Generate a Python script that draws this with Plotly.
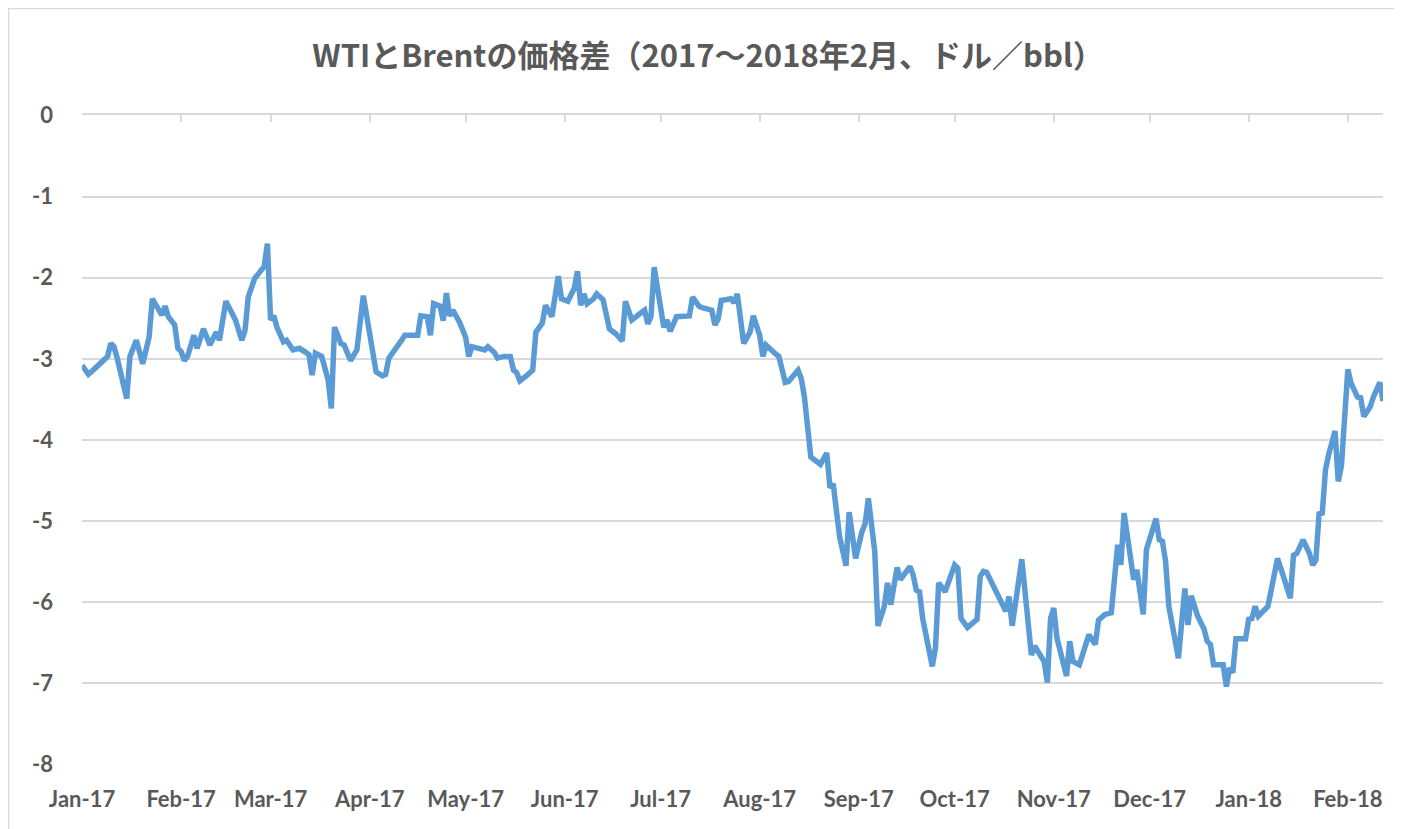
import plotly.graph_objects as go

dates = [
    "2017-01-03","2017-01-05","2017-01-07","2017-01-09","2017-01-11","2017-01-12","2017-01-13","2017-01-14","2017-01-15","2017-01-17","2017-01-18","2017-01-20","2017-01-22","2017-01-24","2017-01-25","2017-01-28","2017-01-29","2017-01-30",
    "2017-02-01","2017-02-02","2017-02-03","2017-02-04","2017-02-05","2017-02-07","2017-02-08","2017-02-10","2017-02-12","2017-02-14","2017-02-15","2017-02-17","2017-02-20","2017-02-22","2017-02-23","2017-02-24","2017-02-26","2017-02-28",
    "2017-03-01","2017-03-02","2017-03-03","2017-03-04","2017-03-05","2017-03-07","2017-03-08","2017-03-10","2017-03-12","2017-03-14","2017-03-15","2017-03-16","2017-03-17","2017-03-19","2017-03-21","2017-03-22","2017-03-23","2017-03-25","2017-03-26","2017-03-28","2017-03-30",
    "2017-04-01","2017-04-03","2017-04-05","2017-04-07","2017-04-08","2017-04-09","2017-04-11","2017-04-13","2017-04-14","2017-04-18","2017-04-19","2017-04-21","2017-04-22","2017-04-23","2017-04-25","2017-04-26","2017-04-27","2017-04-28","2017-04-29",
    "2017-05-01","2017-05-03","2017-05-04","2017-05-05","2017-05-08","2017-05-09","2017-05-10","2017-05-12","2017-05-13","2017-05-15","2017-05-17","2017-05-18","2017-05-19","2017-05-20","2017-05-22","2017-05-24","2017-05-25","2017-05-26","2017-05-27","2017-05-28","2017-05-29","2017-05-30",
    "2017-06-01","2017-06-02","2017-06-04","2017-06-06","2017-06-07","2017-06-08","2017-06-09","2017-06-10","2017-06-12","2017-06-13","2017-06-15","2017-06-17","2017-06-19","2017-06-21","2017-06-22","2017-06-24","2017-06-26","2017-06-28","2017-06-29","2017-06-30",
    "2017-07-01","2017-07-04","2017-07-05","2017-07-06","2017-07-08","2017-07-12","2017-07-13","2017-07-15","2017-07-16","2017-07-19","2017-07-20","2017-07-21","2017-07-22","2017-07-25","2017-07-26","2017-07-27","2017-07-29","2017-07-31",
    "2017-08-01","2017-08-03","2017-08-04","2017-08-05","2017-08-08","2017-08-09","2017-08-11","2017-08-12","2017-08-15","2017-08-16","2017-08-17","2017-08-18","2017-08-19","2017-08-22","2017-08-24","2017-08-25","2017-08-26","2017-08-28","2017-08-30","2017-08-31",
    "2017-09-02","2017-09-04","2017-09-05","2017-09-06","2017-09-07","2017-09-08","2017-09-09","2017-09-11","2017-09-12","2017-09-13","2017-09-15","2017-09-16","2017-09-19","2017-09-20","2017-09-21","2017-09-22","2017-09-23","2017-09-25","2017-09-26","2017-09-27","2017-09-28","2017-09-30",
    "2017-10-03","2017-10-04","2017-10-05","2017-10-07","2017-10-10","2017-10-11","2017-10-12","2017-10-13","2017-10-17","2017-10-19","2017-10-20","2017-10-21","2017-10-24","2017-10-27","2017-10-28","2017-10-31",
    "2017-11-01","2017-11-02","2017-11-03","2017-11-04","2017-11-07","2017-11-08","2017-11-09","2017-11-11","2017-11-14","2017-11-16","2017-11-17","2017-11-19","2017-11-21","2017-11-23","2017-11-24","2017-11-25","2017-11-28","2017-11-29",
    "2017-12-01","2017-12-02","2017-12-05","2017-12-06","2017-12-07","2017-12-08","2017-12-09","2017-12-12","2017-12-14","2017-12-15","2017-12-16","2017-12-18","2017-12-20","2017-12-21","2017-12-22","2017-12-23","2017-12-26","2017-12-27","2017-12-28","2017-12-29","2017-12-30",
    "2018-01-02","2018-01-03","2018-01-04","2018-01-05","2018-01-06","2018-01-09","2018-01-10","2018-01-12","2018-01-14","2018-01-16","2018-01-17","2018-01-18","2018-01-20","2018-01-22","2018-01-23","2018-01-24","2018-01-25","2018-01-26","2018-01-27","2018-01-28","2018-01-30","2018-01-31",
    "2018-02-01","2018-02-02","2018-02-03","2018-02-04","2018-02-06","2018-02-07","2018-02-08","2018-02-10","2018-02-11","2018-02-13","2018-02-14",
]

spread = [
    -3.08,-3.19,-3.12,-3.05,-2.97,-2.81,-2.85,-2.99,-3.14,-3.49,-2.97,-2.77,-3.06,-2.73,-2.26,-2.46,-2.35,-2.48,
    -2.58,-2.87,-2.91,-3.02,-2.97,-2.71,-2.87,-2.63,-2.83,-2.67,-2.77,-2.29,-2.52,-2.77,-2.65,-2.24,-2.01,-1.91,
    -1.86,-1.58,-2.52,-2.47,-2.61,-2.79,-2.77,-2.89,-2.87,-2.92,-2.95,-3.20,-2.93,-2.97,-3.26,-3.61,-2.61,-2.81,-2.83,-3.02,-2.89,
    -2.22,-2.65,-3.16,-3.21,-3.19,-2.99,-2.89,-2.77,-2.71,-2.71,-2.47,-2.48,-2.71,-2.32,-2.35,-2.53,-2.19,-2.47,-2.40,
    -2.54,-2.73,-2.97,-2.85,-2.88,-2.89,-2.85,-2.92,-2.99,-2.97,-2.97,-3.14,-3.17,-3.27,-3.21,-3.14,-2.67,-2.60,-2.56,-2.34,-2.40,-2.48,
    -1.98,-2.26,-2.29,-2.13,-1.92,-2.34,-2.20,-2.32,-2.26,-2.20,-2.27,-2.63,-2.69,-2.78,-2.29,-2.52,-2.46,-2.40,-2.57,-2.48,
    -1.87,-2.61,-2.52,-2.66,-2.48,-2.47,-2.24,-2.35,-2.37,-2.40,-2.58,-2.51,-2.28,-2.26,-2.31,-2.20,-2.81,-2.67,
    -2.47,-2.71,-2.97,-2.83,-2.94,-2.97,-3.29,-3.28,-3.14,-3.24,-3.47,-3.92,-4.21,-4.30,-4.16,-4.59,-4.54,-5.19,-5.55,-4.89,
    -5.46,-5.13,-5.03,-4.72,-5.07,-5.37,-6.29,-6.05,-5.76,-6.03,-5.57,-5.72,-5.56,-5.66,-5.85,-5.87,-6.20,-6.56,-6.79,-6.56,-5.76,-5.87,
    -5.54,-5.58,-6.20,-6.31,-6.21,-5.68,-5.62,-5.63,-5.97,-6.11,-5.93,-6.29,-5.47,-6.65,-6.54,-6.73,
    -6.99,-6.20,-6.07,-6.44,-6.91,-6.48,-6.73,-6.77,-6.40,-6.52,-6.22,-6.15,-6.13,-5.29,-5.54,-4.90,-5.72,-5.60,
    -6.15,-5.35,-4.97,-5.23,-5.25,-5.50,-6.05,-6.69,-5.83,-6.28,-5.92,-6.17,-6.33,-6.48,-6.52,-6.77,-6.77,-7.04,-6.81,-6.87,-6.45,
    -6.45,-6.21,-6.20,-6.05,-6.17,-6.05,-5.87,-5.46,-5.70,-5.95,-5.42,-5.40,-5.23,-5.40,-5.54,-5.48,-4.91,-4.90,-4.37,-4.18,-3.89,-4.51,
    -4.32,-3.75,-3.13,-3.30,-3.47,-3.48,-3.71,-3.59,-3.47,-3.29,-3.52,
]

tick_dates = ["2017-01-03","2017-02-03","2017-03-03","2017-04-03","2017-05-03","2017-06-03","2017-07-03",
              "2017-08-03","2017-09-03","2017-10-03","2017-11-03","2017-12-03","2018-01-03","2018-02-03"]
tick_labels = ["Jan-17","Feb-17","Mar-17","Apr-17","May-17","Jun-17","Jul-17",
               "Aug-17","Sep-17","Oct-17","Nov-17","Dec-17","Jan-18","Feb-18"]
y_ticks = [0, -1, -2, -3, -4, -5, -6, -7, -8]
y_labels = ["0", "-1", "-2", "-3", "-4", "-5", "-6", "-7", "-8"]

title_text = "WTIとBrentの価格差（2017～2018年2月、ドル／bbl）"

FONT = "Lato, 'Noto Sans CJK JP', sans-serif"
TITLE_FONT = "'Noto Sans CJK JP', sans-serif"
GREY = "#595959"
GRID = "#D9D9D9"

# page body has an 8px margin; figure sized so the plot area lands at 82..1383 x 115..765
W, H = 1394, 821
ML, MT, MR, MB = 74, 107, 19, 64
PW, PH = W - ML - MR, H - MT - MB

def px_to_paper_x(fx):
    return (fx - ML) / PW

def px_to_paper_y(fy):
    return (PH + MT - fy) / PH

fig = go.Figure()
fig.add_trace(go.Scatter(
    x=dates, y=spread, mode="lines",
    line=dict(color="#5B9BD5", width=5.5, shape="linear"),
    showlegend=False, hoverinfo="x+y",
))
# invisible helper trace so the top (tick-mark) axis is drawn
fig.add_trace(go.Scatter(
    x=[dates[0], dates[-1]], y=[0, 0], xaxis="x2", mode="lines",
    line=dict(width=0, color="rgba(0,0,0,0)"), showlegend=False, hoverinfo="skip",
))

x_range = [dates[0], dates[-1]]

fig.update_layout(
    width=W, height=H,
    margin=dict(l=ML, r=MR, t=MT, b=MB),
    paper_bgcolor="white", plot_bgcolor="white",
    title=dict(text="<b>" + title_text + "</b>", x=(708 - 8) / W, xanchor="center",
               y=1 - (56 - 8) / H, yanchor="middle", yref="container",
               font=dict(family=TITLE_FONT, size=31, color=GREY)),
    xaxis=dict(type="date", range=x_range, tickvals=tick_dates, ticktext=tick_labels,
               showgrid=False, zeroline=False, showline=False, ticks="",
               tickfont=dict(family=FONT, size=22, color=GREY, weight="bold"),
               ticklabelstandoff=19),
    xaxis2=dict(type="date", range=x_range, overlaying="x", anchor="y", side="top",
                tickvals=tick_dates, showticklabels=False, showgrid=False,
                zeroline=False, showline=True, linecolor=GRID, linewidth=1.5,
                ticks="inside", ticklen=7, tickwidth=1.5, tickcolor=GRID),
    yaxis=dict(range=[-8.006, 0.006], tickvals=y_ticks, ticktext=y_labels,
               showgrid=True, gridcolor=GRID,
               gridwidth=1.5, zeroline=False, showline=False, ticks="",
               tickfont=dict(family=FONT, size=22, color=GREY, weight="bold"),
               ticklabelstandoff=28),
    shapes=[
        dict(type="line", xref="paper", yref="paper",
             x0=px_to_paper_x(-2), x1=px_to_paper_x(W + 2),
             y0=px_to_paper_y(0.5), y1=px_to_paper_y(0.5),
             line=dict(color=GRID, width=1.5)),
        dict(type="line", xref="paper", yref="paper",
             x0=px_to_paper_x(0.5), x1=px_to_paper_x(0.5),
             y0=px_to_paper_y(0), y1=px_to_paper_y(H + 2),
             line=dict(color=GRID, width=1.5)),
    ],
)

fig.write_html("out.html")
